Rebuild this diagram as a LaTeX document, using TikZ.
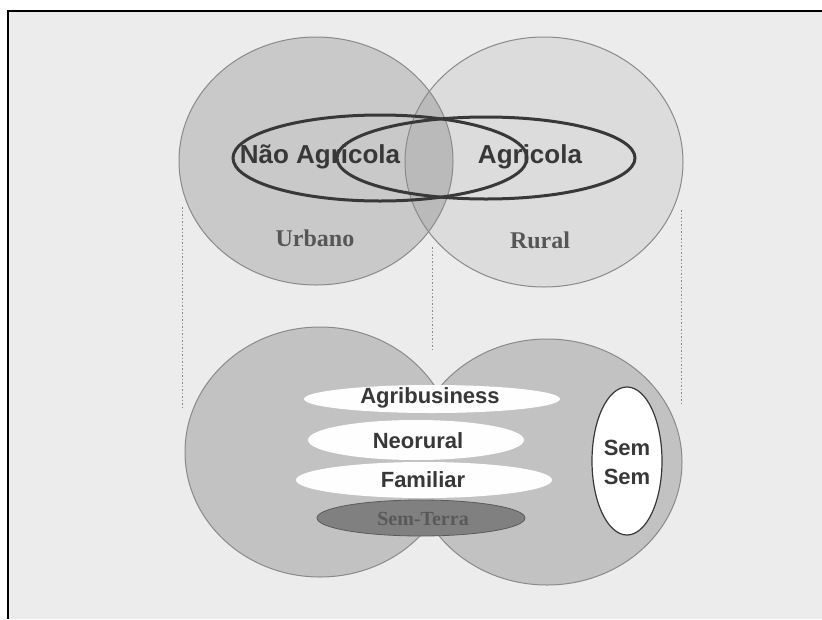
\documentclass[tikz,border=0pt]{standalone}
\usepackage{fontspec}
\setmainfont{Liberation Serif}
\setsansfont{Liberation Sans}
\definecolor{bgc}{HTML}{ECECEC}
\definecolor{lefttop}{HTML}{C9C9C9}
\definecolor{righttop}{HTML}{DCDCDC}
\definecolor{overlap}{HTML}{BABABA}
\definecolor{bottomc}{HTML}{C2C2C2}
\definecolor{edgec}{HTML}{8A8A8A}
\definecolor{inkc}{HTML}{383838}
\definecolor{darkell}{HTML}{808080}
\tikzset{
  sanslabel/.style={font=\sffamily\bfseries\fontsize{22}{24}\selectfont, text=inkc, inner sep=0pt},
  biglabel/.style={font=\sffamily\bfseries\fontsize{26}{28}\selectfont, text=inkc, inner sep=0pt},
  seriflabel/.style={font=\rmfamily\bfseries\fontsize{24}{26}\selectfont, text=inkc!85, inner sep=0pt},
  thickell/.style={draw=inkc, line width=3pt},
  whiteell/.style={fill=white!96!bgc},
  guide/.style={draw=edgec, line width=1pt, dash pattern=on 1.5pt off 2pt},
  outline/.style={draw=edgec, line width=1pt}
}
\begin{document}
\begin{tikzpicture}[x=1pt,y=-1pt]
\useasboundingbox (0,0) rectangle (822,619);
\fill[white] (0,0) rectangle (822,619);
\fill[bgc] (8,11) rectangle (822,619);
\draw[black, line width=1.2pt] (8,619) -- (8,11) -- (822,11);

% top circles
\fill[lefttop] (316,161) ellipse [x radius=137, y radius=124];
\fill[righttop] (544,162) ellipse [x radius=139, y radius=125];
\begin{scope}
  \clip (316,161) ellipse [x radius=137, y radius=124];
  \fill[overlap] (544,162) ellipse [x radius=139, y radius=125];
\end{scope}
\draw[outline] (316,161) ellipse [x radius=137, y radius=124];
\draw[outline] (544,162) ellipse [x radius=139, y radius=125];

% thick ellipses
\draw[thickell] (380,158) ellipse [x radius=147, y radius=43];
\draw[thickell] (486,158) ellipse [x radius=149, y radius=41];

\node[biglabel] (nagr) at (320,157) {Não Agricola};
\node[biglabel] (agr) at (530,157) {Agricola};
\node[seriflabel] (urb) at (315,238) {Urbano};
\node[seriflabel] (rur) at (540,240) {Rural};

% dotted guides
\coordinate (g1a) at (182,207); \coordinate (g1b) at (182,408);
\coordinate (g2a) at (432,247); \coordinate (g2b) at (432,352);
\coordinate (g3a) at (681,210); \coordinate (g3b) at (681,403);
\draw[guide] (g1a) -- (g1b);
\draw[guide] (g2a) -- (g2b);
\draw[guide] (g3a) -- (g3b);

% bottom peanut
\fill[bottomc] (320,452) ellipse [x radius=135, y radius=125];
\fill[bottomc] (547,462) ellipse [x radius=135, y radius=123];
\begin{scope}[even odd rule]
  \clip (100,300) rectangle (750,600) (547,462) ellipse [x radius=135, y radius=123];
  \draw[outline] (320,452) ellipse [x radius=135, y radius=125];
\end{scope}
\begin{scope}[even odd rule]
  \clip (100,300) rectangle (750,600) (320,452) ellipse [x radius=135, y radius=125];
  \draw[outline] (547,462) ellipse [x radius=135, y radius=123];
\end{scope}

\fill[whiteell] (432,399) ellipse [x radius=128, y radius=14];
\fill[whiteell] (416,440) ellipse [x radius=108, y radius=20];
\fill[whiteell] (424,480) ellipse [x radius=128, y radius=18];
\draw[draw=darkell!70!black, fill=darkell, line width=0.8pt] (421,518) ellipse [x radius=104, y radius=18];
\draw[draw=inkc, line width=1.2pt, fill=white] (627,461) ellipse [x radius=35, y radius=74];

\node[sanslabel] (agb) at (430,398) {Agribusiness};
\node[sanslabel] (neo) at (418,441) {Neorural};
\node[sanslabel] (fam) at (423,480) {Familiar};
\node[font=\rmfamily\bfseries\fontsize{20}{22}\selectfont, text=black!65, inner sep=0pt] (st) at (423,519) {Sem-Terra};
\node[sanslabel] (s1) at (627,448) {Sem};
\node[sanslabel] (s2) at (627,477) {Sem};
\end{tikzpicture}
\end{document}
